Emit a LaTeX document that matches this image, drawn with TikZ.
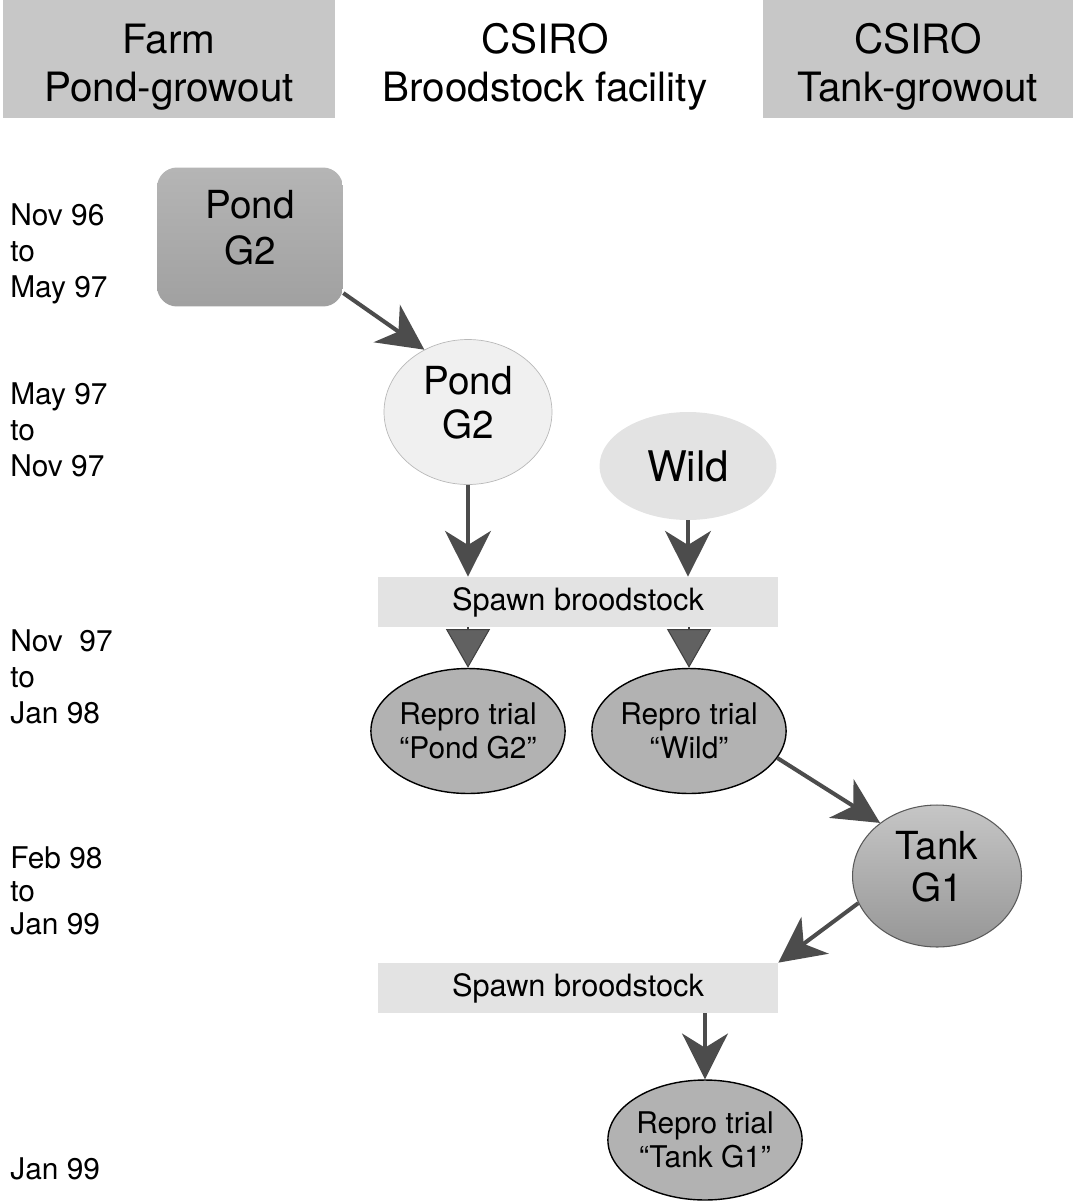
\documentclass[tikz,border=0pt]{standalone}
\usepackage{fontspec}
\setmainfont{TeX Gyre Heros}
\usetikzlibrary{shapes.geometric,arrows.meta}

\newcommand{\hdrstrut}{\rule{0pt}{26pt}}

\tikzset{
  header/.style={fill=gray!44, minimum height=2.36cm, align=center, font=\fontsize{23}{27.5}\selectfont},
  datum/.style={anchor=north west, align=left, inner sep=0pt, font=\fontsize{17}{20.5}\selectfont},
  raised/.style={execute at end node=\rule[-11pt]{0pt}{11pt}},
  stock/.style={ellipse, inner sep=0pt, align=center, font=\fontsize{22}{25}\selectfont},
  pondbox/.style={rounded corners=0.4cm, top color=gray!58, bottom color=gray!74, minimum width=3.72cm, minimum height=2.78cm, align=center, font=\fontsize{22}{26}\selectfont},
  trial/.style={ellipse, draw=black, line width=0.8pt, fill=gray!60, inner sep=0pt, align=center, font=\fontsize{17}{19.5}\selectfont},
  spawn/.style={fill=gray!22, minimum width=8cm, minimum height=1cm, font=\fontsize{17.5}{19}\selectfont},
  flow/.style={draw=black!70, line width=2.3pt, -{Stealth[length=26pt, width=26pt, inset=8pt]}},
  tri/.style={draw=black!75, line width=0.6pt, -{Triangle[length=22pt, width=25pt, fill=black!62]}}
}

\begin{document}
\begin{tikzpicture}[x=0.02cm, y=-0.02cm]
\useasboundingbox (0,0) rectangle (1073,1201);

% column headers
\node[header, minimum width=6.64cm] (farm) at (169,59) {\hdrstrut Farm\\Pond-growout};
\node[header, fill=none] (brood) at (545,59) {\hdrstrut CSIRO\\Broodstock facility};
\node[header, minimum width=6.2cm] (tankH) at (918,59) {\hdrstrut CSIRO\\Tank-growout};

% time periods
\node[datum] (t1) at (10,203) {Nov 96\\to\\May 97};
\node[datum] (t2) at (10,382) {May 97\\to\\Nov 97};
\node[datum] (t3) at (10,629) {Nov~\ 97\\to\\Jan 98};
\node[datum, font=\fontsize{17}{19}\selectfont] (t4) at (10,846) {Feb 98\\to\\Jan 99};
\node[datum] (t5) at (10,1157) {Jan 99};

% stock and trials
\node[pondbox, raised] (pondF) at (250,237) {Pond\\G2};
\node[stock, raised, fill=gray!12, draw=gray!55, minimum width=3.36cm, minimum height=2.9cm] (pondC) at (468,412) {Pond\\G2};
\node[stock, fill=gray!22, minimum width=3.54cm, minimum height=2.16cm, font=\fontsize{24}{26}\selectfont] (wild) at (688,466) {Wild};
\node[spawn] (spawnA) at (578,602) {Spawn broodstock};
\node[trial, minimum width=3.74cm, minimum height=2.5cm] (reproA) at (468,731) {Repro trial\\“Pond G2”};
\node[trial, minimum width=3.7cm, minimum height=2.5cm] (reproB) at (689,731) {Repro trial\\“Wild”};
\node[stock, raised, draw=black!65, line width=0.6pt, top color=gray!45, bottom color=gray!82, minimum width=3.38cm, minimum height=2.84cm, font=\fontsize{22}{24}\selectfont] (tankG) at (937,876) {Tank\\G1};
\node[spawn] (spawnB) at (578,988) {Spawn broodstock};
\node[trial, minimum width=3.5cm, minimum height=2.4cm] (reproC) at (705,1140) {Repro trial\\“Tank G1”};

% arrows
\draw[flow] (pondF.-31) -- (pondC.125);
\draw[flow] (pondC.south) -- (pondC.south |- spawnA.north);
\draw[flow] (wild.south) -- (wild.south |- spawnA.north);
\draw[tri] (spawnA.south -| reproA) -- (reproA.north);
\draw[tri] (spawnA.south -| reproB) -- (reproB.north);
\draw[flow] (reproB.-17) -- (tankG.137);
\draw[flow] (tankG.-161) -- (spawnB.north east);
\draw[flow] (spawnB.south -| reproC) -- (reproC.north);

\end{tikzpicture}
\end{document}
